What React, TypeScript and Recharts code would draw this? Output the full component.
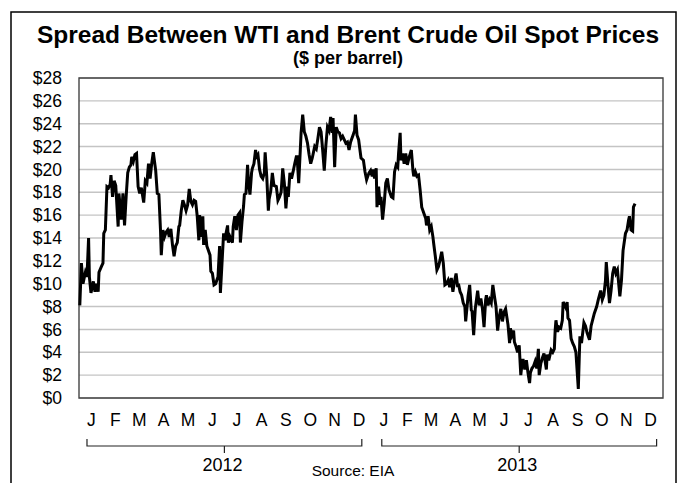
import React from 'react';
import { CartesianGrid, Line, LineChart, ReferenceArea, XAxis, YAxis } from 'recharts';

// days counted from 2012-01-01, spread = WTI minus Brent spot ($/bbl)
const tradeDay = [
  1, 3, 5, 8, 10, 12, 13, 15, 18, 20, 22, 24, 25, 28, 30, 31, 33, 35, 37, 39,
  40, 42, 44, 46, 49, 50, 53, 55, 57, 59, 61, 63, 65, 66, 68, 70, 72, 74, 76, 78,
  81, 83, 85, 87, 89, 91, 93, 96, 98, 100, 102, 103, 105, 107, 109, 111, 113, 115, 117, 119,
  121, 123, 125, 126, 128, 130, 132, 134, 136, 138, 140, 142, 144, 146, 148, 150, 151, 153, 155, 156,
  158, 160, 162, 164, 165, 167, 169, 171, 174, 176, 177, 179, 181, 183, 184, 186, 187, 189, 192, 193,
  195, 197, 199, 201, 202, 204, 206, 207, 209, 211, 212, 214, 216, 217, 219, 221, 222, 224, 226, 228,
  230, 232, 233, 235, 237, 238, 240, 242, 244, 247, 249, 251, 253, 255, 257, 259, 261, 262, 264, 266,
  268, 270, 272, 273, 275, 277, 278, 280, 282, 284, 286, 288, 290, 292, 295, 297, 299, 301, 303, 305,
  307, 309, 311, 313, 315, 317, 318, 320, 322, 324, 326, 328, 330, 332, 334, 336, 338, 340, 343, 345,
  346, 348, 350, 353, 356, 358, 360, 363, 365, 367, 368, 370, 372, 373, 375, 377, 378, 380, 382, 384,
  386, 388, 391, 393, 395, 397, 399, 400, 402, 403, 405, 407, 409, 411, 413, 416, 418, 419, 421, 423,
  425, 427, 429, 431, 434, 435, 437, 439, 441, 443, 444, 446, 448, 450, 452, 454, 456, 458, 460, 462,
  464, 466, 468, 470, 472, 474, 475, 477, 479, 481, 483, 484, 487, 489, 491, 492, 494, 496, 499, 501,
  503, 505, 507, 509, 510, 512, 514, 516, 518, 520, 522, 524, 526, 528, 530, 532, 534, 537, 539, 540,
  542, 544, 545, 547, 549, 551, 553, 555, 556, 558, 560, 562, 564, 565, 567, 569, 571, 573, 575, 576,
  578, 580, 582, 585, 586, 588, 590, 591, 593, 595, 596, 597, 599, 601, 603, 605, 606, 608, 610, 611,
  612, 614, 616, 618, 620, 622, 625, 627, 629, 632, 634, 636, 639, 641, 645, 648, 650, 653, 655, 657,
  659, 660, 662, 664, 666, 668, 670, 672, 674, 677, 679, 681, 684, 686, 688, 689, 691, 693, 694, 696,
];

const spread = [
  8.1, 11.8, 10.0, 11.0, 10.6, 14.0, 10.6, 9.2, 10.2, 9.3, 10.0, 9.3, 11.0, 11.5, 11.8, 14.4, 14.7, 18.5, 18.4, 18.7,
  19.5, 17.6, 19.0, 18.6, 15.0, 17.9, 15.6, 17.9, 15.1, 17.6, 19.7, 20.2, 20.4, 21.1, 20.7, 21.3, 21.4, 18.5, 17.9, 18.4,
  17.1, 19.0, 18.8, 20.5, 19.2, 20.5, 21.5, 19.9, 17.9, 17.8, 14.7, 12.5, 14.7, 14.1, 14.5, 14.7, 14.1, 14.8, 13.4, 12.4,
  13.3, 13.6, 15.0, 15.1, 16.4, 17.3, 16.9, 16.4, 16.9, 18.3, 17.2, 16.9, 17.3, 17.2, 15.9, 13.8, 16.0, 14.1, 15.9, 13.4,
  14.7, 13.3, 12.9, 12.5, 11.1, 10.9, 9.9, 10.0, 10.6, 13.3, 9.2, 11.8, 14.4, 13.8, 14.4, 15.1, 13.6, 14.1, 13.6, 15.0,
  15.9, 14.7, 16.0, 16.2, 13.6, 15.4, 16.8, 17.8, 17.9, 20.4, 19.0, 17.8, 19.7, 20.1, 20.5, 21.7, 21.1, 21.3, 20.0, 19.4,
  19.2, 19.7, 21.5, 19.4, 16.4, 17.4, 18.1, 19.7, 18.6, 18.5, 17.3, 17.6, 18.0, 20.1, 18.8, 16.6, 18.5, 17.6, 19.7, 19.2,
  19.8, 20.5, 21.1, 21.1, 18.8, 21.7, 23.2, 24.8, 23.3, 22.9, 22.3, 21.3, 20.5, 21.0, 22.0, 21.8, 22.7, 23.7, 23.3, 21.7,
  19.9, 22.1, 23.7, 23.4, 24.6, 23.2, 24.5, 20.2, 23.7, 23.3, 23.2, 22.7, 22.9, 22.6, 22.3, 22.4, 21.7, 22.4, 23.0, 23.4,
  24.8, 23.0, 22.6, 21.0, 20.8, 19.8, 19.1, 19.7, 19.9, 19.4, 20.0, 19.2, 20.1, 16.7, 18.5, 16.9, 17.6, 15.6, 17.0, 18.8,
  19.2, 18.2, 17.6, 17.5, 19.8, 20.4, 20.2, 21.4, 23.2, 20.8, 21.4, 20.5, 21.4, 20.4, 21.0, 21.7, 19.9, 19.4, 19.8, 19.4,
  19.5, 18.2, 16.7, 16.3, 15.7, 15.1, 15.9, 14.7, 15.0, 14.1, 13.5, 12.4, 11.2, 11.5, 12.1, 12.8, 11.8, 9.9, 10.0, 10.3,
  9.7, 10.5, 9.3, 10.2, 10.9, 9.7, 10.0, 9.3, 9.0, 8.3, 8.0, 6.7, 8.9, 9.9, 7.7, 7.6, 5.5, 7.8, 9.4, 8.1,
  8.7, 7.8, 6.2, 8.6, 9.0, 8.1, 8.6, 8.3, 9.9, 8.9, 8.0, 5.9, 7.1, 7.8, 6.7, 7.5, 7.8, 6.4, 4.8, 6.1,
  5.5, 5.9, 4.9, 4.5, 4.0, 4.6, 2.0, 3.3, 3.3, 2.5, 3.3, 2.2, 1.3, 2.2, 2.6, 2.8, 3.2, 2.6, 4.3, 2.0,
  3.0, 3.5, 3.9, 2.5, 3.8, 3.3, 3.9, 4.2, 4.0, 4.3, 5.9, 6.8, 5.8, 6.2, 6.1, 6.8, 8.4, 8.1, 7.8, 8.4,
  7.0, 6.8, 5.2, 4.8, 4.5, 4.0, 0.8, 5.4, 4.8, 6.6, 6.3, 5.7, 5.1, 6.3, 7.4, 8.0, 8.6, 9.4, 8.6, 9.0,
  10.3, 11.9, 10.0, 8.3, 9.4, 10.9, 11.5, 10.9, 11.2, 8.9, 10.3, 12.9, 14.4, 14.7, 15.6, 15.9, 14.7, 14.6, 16.7, 17.0,
];

const years = [2012, 2013];
const monthLetters = ['J', 'F', 'M', 'A', 'M', 'J', 'J', 'A', 'S', 'O', 'N', 'D'];
const yTicks = [0, 2, 4, 6, 8, 10, 12, 14, 16, 18, 20, 22, 24, 26, 28];

const FONT = '"Liberation Sans", Arial, Helvetica, sans-serif';
const W = 679;
const H = 483;
const PLOT = { left: 79, top: 78, right: 663, bottom: 398 };

const DAY = 86400000;
const base = Date.UTC(2012, 0, 1);
const monthStarts: number[] = [];
years.forEach(y => {
  for (let m = 0; m < 12; m++) monthStarts.push((Date.UTC(y, m, 1) - base) / DAY);
});
const lastDay = (Date.UTC(2014, 0, 1) - base) / DAY;
const monthMids = monthStarts.map((s, i) => (s + (monthStarts[i + 1] ?? lastDay)) / 2);

const data = tradeDay.map((d, i) => ({ day: d, spread: spread[i] }));

// pixel x of a day, for the year brackets under the axis
const dayX = (d: number) => PLOT.left + (d / lastDay) * (PLOT.right - PLOT.left);

function YearBracket({ from, to, label }: { from: number; to: number; label: number }) {
  const x1 = dayX(from);
  const x2 = dayX(to);
  const mid = (x1 + x2) / 2;
  return (
    <g>
      <path d={`M${x1},439 V446 H${x2} V439 M${mid},446 V453`} stroke="#222" strokeWidth={1.2} fill="none" />
      <text x={mid - 2} y={471} textAnchor="middle" fontSize={18} fontFamily={FONT} fill="#000">
        {label}
      </text>
    </g>
  );
}

export default function App() {
  return (
    <div style={{ position: 'absolute', left: 0, top: 0, width: W, height: H, background: '#fff' }}>
      <LineChart
        width={W}
        height={H}
        data={data}
        margin={{ top: PLOT.top, right: W - PLOT.right, bottom: H - PLOT.bottom - 30, left: PLOT.left - 60 }}
      >
        <CartesianGrid vertical={false} stroke="#c4c4c4" strokeWidth={1.4} />
        <XAxis
          dataKey="day"
          type="number"
          domain={[0, lastDay]}
          ticks={monthMids}
          interval={0}
          tickFormatter={(_v: number, i: number) => monthLetters[i % 12]}
          tickLine={false}
          axisLine={false}
          tickSize={0}
          tickMargin={16}
          height={30}
          tick={{ fontSize: 17.5, fontFamily: FONT, fill: '#000' }}
        />
        <YAxis
          type="number"
          domain={[0, 28]}
          ticks={yTicks}
          interval={0}
          width={60}
          tickFormatter={(v: number) => `$${v}`}
          tickLine={false}
          axisLine={false}
          tickSize={0}
          tickMargin={17}
          tick={{ fontSize: 17.5, fontFamily: FONT, fill: '#000' }}
        />
        <ReferenceArea x1={0} x2={lastDay} y1={0} y2={28} fill="none" stroke="#444" strokeWidth={1.4} />
        <Line
          type="linear"
          dataKey="spread"
          stroke="#000"
          strokeWidth={3}
          dot={false}
          isAnimationActive={false}
        />
      </LineChart>
      <svg width={W} height={H} style={{ position: 'absolute', left: 0, top: 0, pointerEvents: 'none' }}>
        <rect x={11} y={12} width={665} height={490} fill="none" stroke="#000" strokeWidth={1.5} />
        <text x={348} y={43} textAnchor="middle" fontSize={24.5} fontWeight="bold" fontFamily={FONT} fill="#000">
          Spread Between WTI and Brent Crude Oil Spot Prices
        </text>
        <text x={348} y={64} textAnchor="middle" fontSize={18} fontWeight="bold" fontFamily={FONT} fill="#000">
          ($ per barrel)
        </text>
        <YearBracket from={10} to={354} label={years[0]} />
        <YearBracket from={379} to={723} label={years[1]} />
        <text x={353} y={476} textAnchor="middle" fontSize={15.5} fontFamily={FONT} fill="#000">
          Source: EIA
        </text>
      </svg>
    </div>
  );
}
